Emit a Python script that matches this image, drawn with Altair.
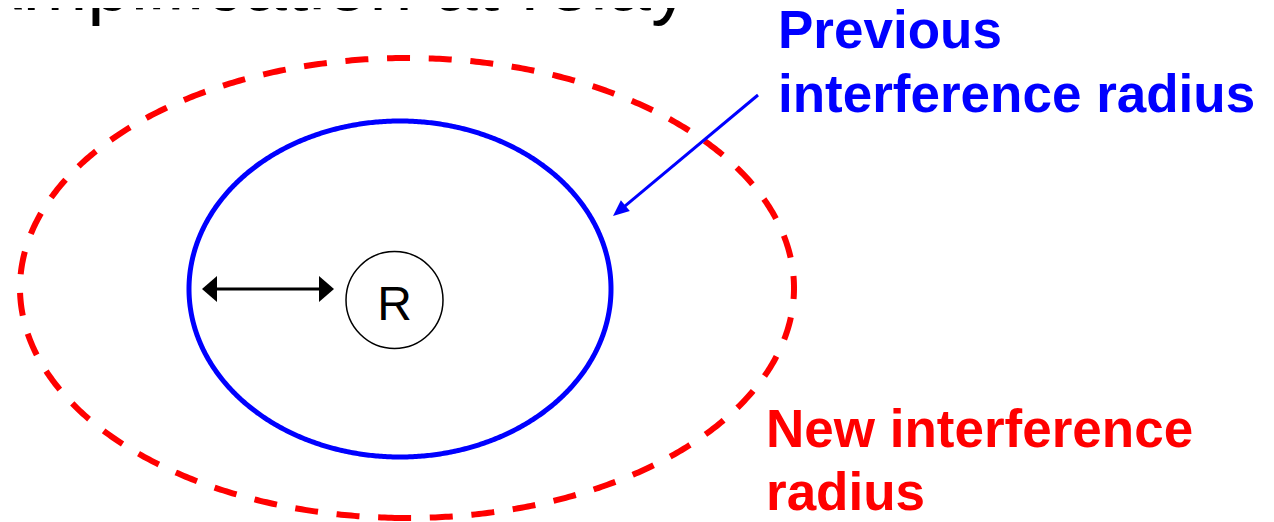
import math
import numpy as np
import pandas as pd
import altair as alt

# ---- diagram data (reference pixel coordinates) ----
ELLIPSE_NAMES = ["new", "previous"]
ELLIPSE_CX = [407, 400]
ELLIPSE_CY = [288, 289]
ELLIPSE_RX = [387, 211]
ELLIPSE_RY = [230, 168]
ELLIPSE_START_DEG = [92.8, 90.0]

RELAY_X = [394.5]
RELAY_Y = [300]
RELAY_LABEL = ["R"]
RELAY_LABEL_Y = [320]

DOUBLE_ARROW_X = [202, 334]
DOUBLE_ARROW_Y = [289, 289]

POINTER_START = [758, 95]
POINTER_TIP = [613, 216]

BLUE_LABEL = ["Previous", "interference radius"]
BLUE_LABEL_X = [778, 778]
BLUE_LABEL_Y = [48, 112]

RED_LABEL = ["New interference", "radius"]
RED_LABEL_X = [766, 766]
RED_LABEL_Y = [447, 510]

TITLE = ["Amplification at relay"]
TITLE_X = [690]
TITLE_Y = [10]

# ---- build tables ----
def ellipse_table(i, n=720):
    t0 = math.radians(ELLIPSE_START_DEG[i])
    t = t0 - np.linspace(0, 2 * math.pi, n + 1)
    return pd.DataFrame({
        "x": ELLIPSE_CX[i] + ELLIPSE_RX[i] * np.cos(t),
        "y": ELLIPSE_CY[i] + ELLIPSE_RY[i] * np.sin(t),
        "k": np.arange(n + 1),
    })

W, H = 1258, 514
xs = alt.Scale(domain=[8, 8 + W], nice=False, zero=False)
ys = alt.Scale(domain=[8, 8 + H], nice=False, zero=False, reverse=True)
X = alt.X("x:Q", scale=xs, axis=None)
Y = alt.Y("y:Q", scale=ys, axis=None)

red = alt.Chart(ellipse_table(0)).mark_line(
    color="#FF0000", strokeWidth=6, strokeDash=[23, 18.7], strokeCap="butt"
).encode(x=X, y=Y, order="k:Q")

blue = alt.Chart(ellipse_table(1)).mark_line(
    color="#0000FF", strokeWidth=5
).encode(x=X, y=Y, order="k:Q")

relay = alt.Chart(pd.DataFrame({"x": RELAY_X, "y": RELAY_Y})).mark_point(
    shape="circle", size=97 ** 2, filled=False, stroke="black",
    strokeWidth=1.5, opacity=1
).encode(x=X, y=Y)

relay_txt = alt.Chart(pd.DataFrame({"x": RELAY_X, "y": RELAY_LABEL_Y, "t": RELAY_LABEL})).mark_text(
    font="Liberation Sans", fontSize=48, color="black", align="center", baseline="alphabetic"
).encode(x=X, y=Y, text="t:N")

da = pd.DataFrame({"x": [DOUBLE_ARROW_X[0] + 8], "x2": [DOUBLE_ARROW_X[1] - 8], "y": [DOUBLE_ARROW_Y[0]]})
da_line = alt.Chart(da).mark_rule(color="black", strokeWidth=3).encode(x=X, x2="x2:Q", y=Y)

head_l = alt.Chart(pd.DataFrame({"x": [DOUBLE_ARROW_X[0]], "y": [DOUBLE_ARROW_Y[0]]})).mark_point(
    shape="M 0 0 L 1.154 -1 L 1.154 1 Z", size=676, filled=True, color="black", opacity=1, strokeWidth=0
).encode(x=X, y=Y)
head_r = alt.Chart(pd.DataFrame({"x": [DOUBLE_ARROW_X[1]], "y": [DOUBLE_ARROW_Y[1]]})).mark_point(
    shape="M 0 0 L -1.154 -1 L -1.154 1 Z", size=676, filled=True, color="black", opacity=1, strokeWidth=0
).encode(x=X, y=Y)

dx = POINTER_TIP[0] - POINTER_START[0]
dy = POINTER_TIP[1] - POINTER_START[1]
L = math.hypot(dx, dy)
ang = math.degrees(math.atan2(dy, dx)) % 360
ptr = pd.DataFrame({
    "x": [POINTER_START[0]], "y": [POINTER_START[1]],
    "x2": [POINTER_TIP[0] - dx / L * 10], "y2": [POINTER_TIP[1] - dy / L * 10],
})
ptr_line = alt.Chart(ptr).mark_rule(color="#0000FF", strokeWidth=3).encode(x=X, y=Y, x2="x2:Q", y2="y2:Q")
ptr_head = alt.Chart(pd.DataFrame({"x": [POINTER_TIP[0]], "y": [POINTER_TIP[1]]})).mark_point(
    shape="M 0 0 L -2.3 -1 L -2.3 1 Z", size=196, filled=True, color="#0000FF", opacity=1,
    strokeWidth=0, angle=ang
).encode(x=X, y=Y)

blue_txt = alt.Chart(pd.DataFrame({"x": BLUE_LABEL_X, "y": BLUE_LABEL_Y, "t": BLUE_LABEL})).mark_text(
    font="Liberation Sans", fontWeight="bold", fontSize=53, color="#0000FF",
    align="left", baseline="alphabetic"
).encode(x=X, y=Y, text="t:N")

red_txt = alt.Chart(pd.DataFrame({"x": RED_LABEL_X, "y": RED_LABEL_Y, "t": RED_LABEL})).mark_text(
    font="Liberation Sans", fontWeight="bold", fontSize=53, color="#FF0000",
    align="left", baseline="alphabetic"
).encode(x=X, y=Y, text="t:N")

title_txt = alt.Chart(pd.DataFrame({"x": TITLE_X, "y": TITLE_Y, "t": TITLE})).mark_text(
    font="Liberation Sans", fontSize=78, color="black",
    align="right", baseline="alphabetic"
).encode(x=X, y=Y, text="t:N")

chart = alt.layer(
    red, blue, relay, relay_txt, da_line, head_l, head_r,
    ptr_line, ptr_head, blue_txt, red_txt, title_txt
).properties(
    width=W, height=H, padding=0,
    autosize=alt.AutoSizeParams(type="none"),
).configure_view(strokeWidth=0)

chart.save("out.html", embed_options={"renderer": "svg", "actions": False})
